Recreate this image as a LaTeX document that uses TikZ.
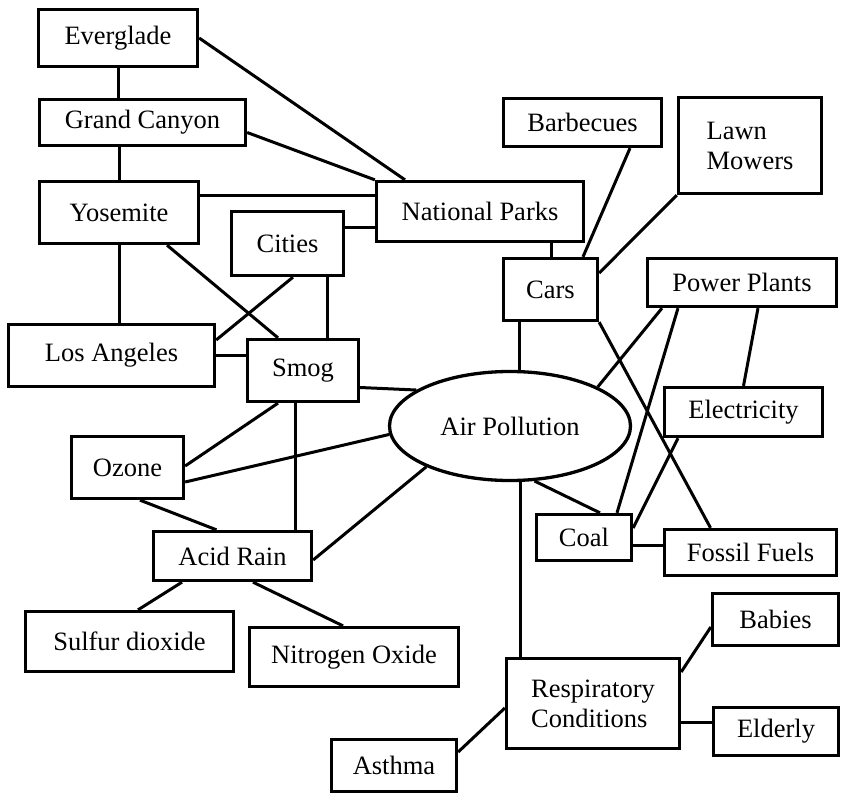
\documentclass[tikz,border=0pt]{standalone}
\usepackage{fontspec}
\setmainfont{Liberation Serif}
\usepackage{tikz}
\usetikzlibrary{shapes.geometric}
\tikzset{
  box/.style={draw=black, line width=3.3pt, rectangle, inner sep=0pt, align=center, font=\fontsize{26.5}{30}\selectfont},
  sz/.style 2 args={minimum width=#1, minimum height=#2},
  hub/.style={draw=black, line width=3.3pt, ellipse, inner sep=0pt, font=\fontsize{26.5}{30}\selectfont},
  link/.style={draw=black, line width=3pt, line cap=butt},
}

\begin{document}
\begin{tikzpicture}[x=1pt,y=-1pt]
  \useasboundingbox (0,0) rectangle (843,795);

  % boxes, centres in picture pixels
  \node[box,sz={159}{57}] (ever) at (118,38) {Everglade};
  \node[box,sz={206}{46}] (grand) at (142.5,122.5) {Grand Canyon};
  \node[box,sz={159}{62}] (yose) at (119,212.5) {Yosemite};
  \node[box,sz={112}{64}] (cities) at (287.5,243.5) {Cities};
  \node[box,sz={207}{60}] (natp) at (480,211.5) {National Parks};
  \node[box,sz={206}{62}] (losang) at (111.5,355.5) {Los Angeles};
  \node[box,sz={111}{62}] (smog) at (303,370.5) {Smog};
  \node[box,sz={158}{48}] (barb) at (582.5,122.5) {Barbecues};
  \node[box,sz={143}{96},align=left] (lawn) at (750,145.5) {Lawn\\Mowers};
  \node[box,sz={94}{62}] (cars) at (550.5,289.5) {Cars};
  \node[box,sz={189}{48}] (power) at (742,282.5) {Power Plants};
  \node[box,sz={158}{49}] (elec) at (743.5,412) {Electricity};
  \node[hub,sz={241}{109}] (air) at (510,426) {Air Pollution};
  \node[box,sz={112}{62}] (ozone) at (127.5,467.5) {Ozone};
  \node[box,sz={158}{49}] (acid) at (232.5,556) {Acid Rain};
  \node[box,sz={208}{60}] (sulfur) at (129.5,641.5) {Sulfur dioxide};
  \node[box,sz={209}{59}] (nitro) at (354,657) {Nitrogen Oxide};
  \node[box,sz={125}{52}] (asthma) at (394,765.5) {Asthma};
  \node[box,sz={95}{46}] (coal) at (584,537.5) {Coal};
  \node[box,sz={172}{46}] (fossil) at (750.5,552.5) {Fossil Fuels};
  \node[box,sz={126}{52}] (babies) at (775.5,619.5) {Babies};
  \node[box,sz={173}{90},align=left] (resp) at (593,703.5) {Respiratory\\Conditions};
  \node[box,sz={125}{48}] (elderly) at (776,731.5) {Elderly};

  % parks
  \draw[link] (ever.south) -- (ever.south |- grand.north);
  \draw[link] (yose.north) -- (yose.north |- grand.south);
  \draw[link] (ever.east) -- ([xshift=-75]natp.north);
  \draw[link] ([yshift=-10]grand.east) -- (natp.north west);
  \draw[link] ([yshift=17.5]yose.east) -- ([yshift=17.5]yose.east -| natp.west);
  \draw[link] ([yshift=16]cities.east) -- ([yshift=16]cities.east -| natp.west);
  \draw[link] (yose.south) -- (yose.south |- losang.north);
  \draw[link] ([xshift=48]yose.south) -- ([xshift=-25]smog.north);
  \draw[link] ([xshift=5.5]cities.south) -- ([yshift=15.5]losang.east);
  \draw[link] ([xshift=39.5]cities.south) -- ([xshift=39.5]cities.south |- smog.north);
  \draw[link] (losang.east) -- (losang.east -| smog.west);

  % smog, ozone, acid rain
  \draw[link] ([yshift=-17]smog.east) -- (air.159);
  \draw[link] ([xshift=-25]smog.south) -- ([yshift=1.5]ozone.east);
  \draw[link] ([xshift=-8]smog.south) -- ([xshift=-8]smog.south |- acid.north);
  \draw[link] ([yshift=-14.5]ozone.east) -- (air.184);
  \draw[link] ([xshift=12.5]ozone.south) -- ([xshift=-16]acid.north);
  \draw[link] ([yshift=-4]acid.east) -- (air.206);
  \draw[link] ([xshift=-50.5]acid.south) -- ([xshift=8.5]sulfur.north);
  \draw[link] ([xshift=20.5]acid.south) -- ([xshift=-11]nitro.north);

  % cars and power
  \draw[link] ([xshift=71]natp.south) -- ([xshift=71]natp.south |- cars.north);
  \draw[link] ([xshift=47.5]barb.south) -- ([xshift=32.5]cars.north);
  \draw[link] (lawn.south west) -- ([yshift=16.5]cars.east);
  \draw[link] ([xshift=-31.5]cars.south) -- ([xshift=-31.5]cars.south |- air.north);
  \draw[link] (cars.south east) -- ([xshift=-40]fossil.north);
  \draw[link] ([xshift=-80]power.south) -- (air.24);
  \draw[link] ([xshift=-64]power.south) -- ([xshift=33]coal.north);
  \draw[link] ([xshift=16]power.south) -- (elec.north);
  \draw[link] ([xshift=-65.5]elec.south) -- ([yshift=9.5]coal.east);
  \draw[link] (air.-66) -- ([xshift=16]coal.north);
  \draw[link] ([yshift=-7.5]coal.east) -- ([yshift=-7.5]coal.east -| fossil.west);

  % health
  \draw[link] ([xshift=-73]resp.north) -- ([xshift=-73]resp.north |- air.south);
  \draw[link] ([yshift=31.5]resp.east) -- ([yshift=-7.5]babies.west);
  \draw[link] ([yshift=-18.5]resp.east) -- ([yshift=-18.5]resp.east -| elderly.west);
  \draw[link] ([yshift=13.5]asthma.east) -- ([yshift=-4.5]resp.west);
\end{tikzpicture}
\end{document}
